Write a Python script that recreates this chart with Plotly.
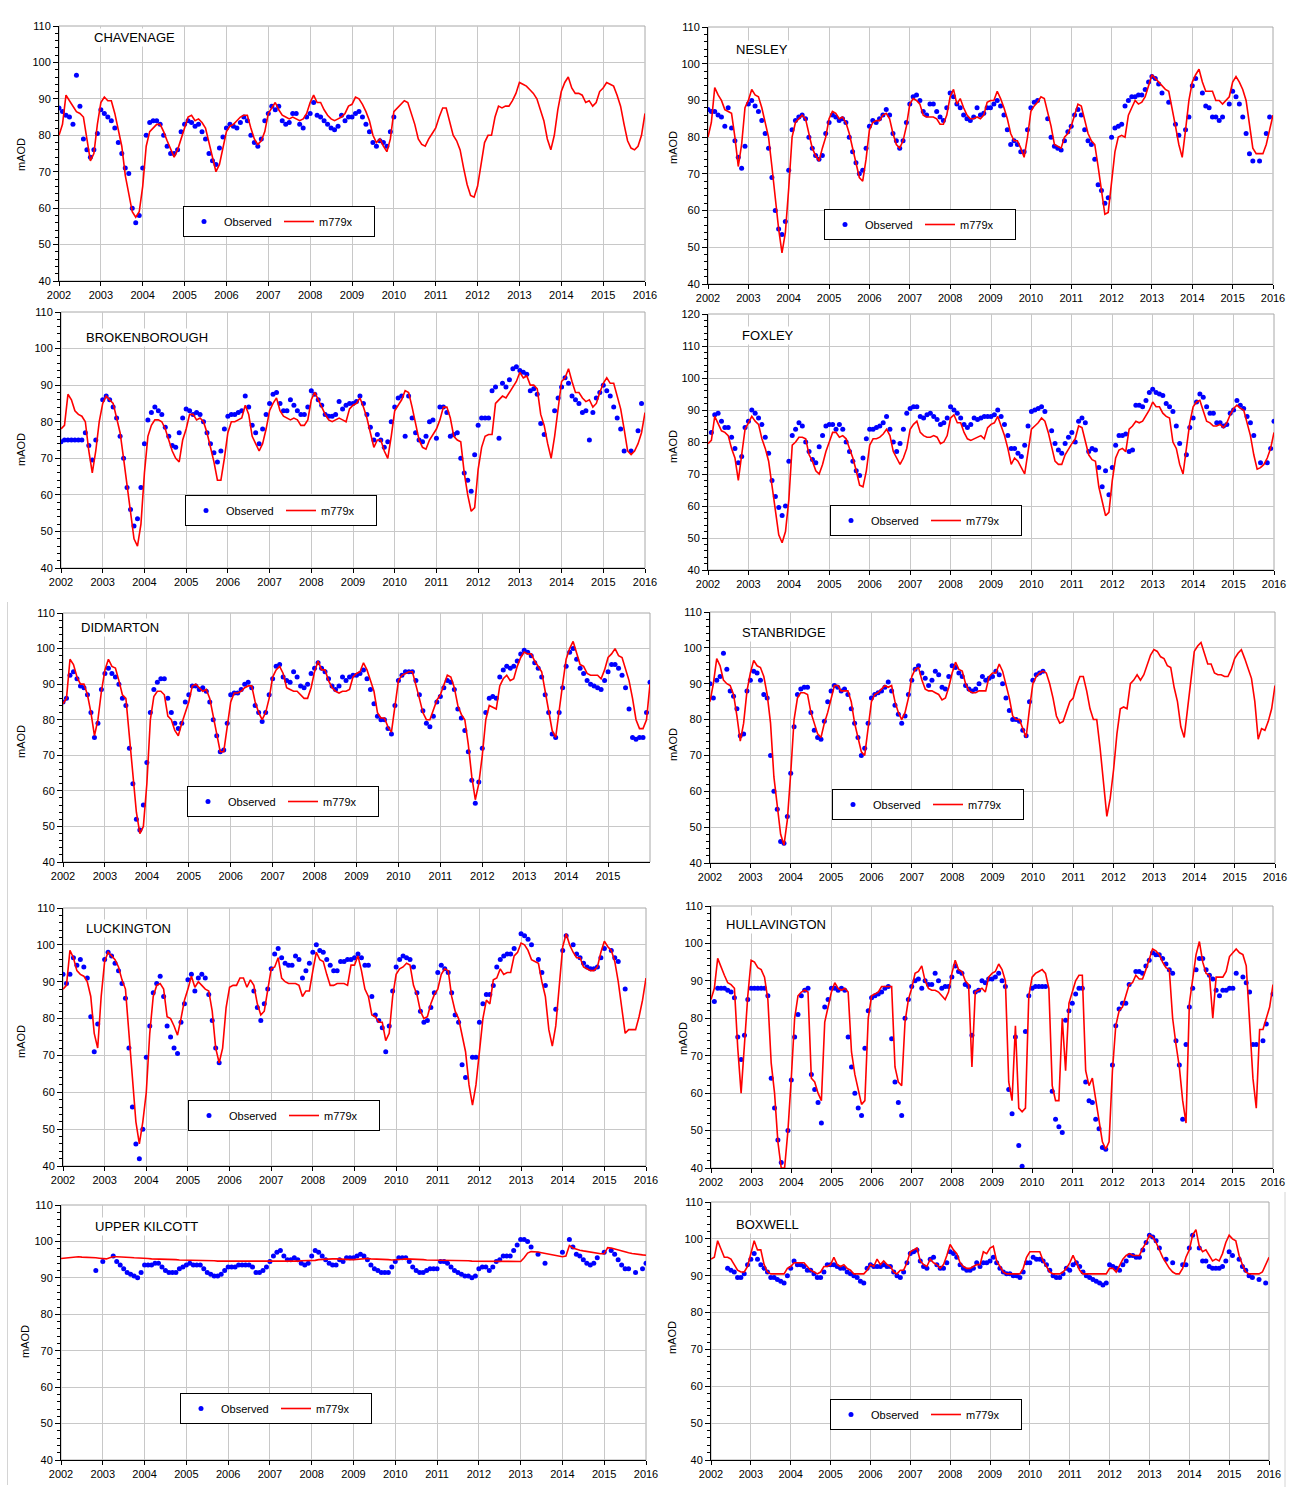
import plotly.graph_objects as go

# Groundwater levels (mAOD), observed vs model m779x, read monthly off the original
# Time axis: Jan 2002 .. Jan 2016 as decimal years
months = [2002 + i / 12 for i in range(14 * 12 + 1)]

chavenage_model = [
    80, 83, 91, 89.5, 88, 86.5, 86, 85, 79, 73, 75, 83,
    89, 90.5, 89.5, 89.5, 86, 81, 77, 69, 64, 59, 57.5, 59,
    66, 77, 81, 82, 83, 83, 81, 78.5, 76, 74, 76, 79,
    82, 85, 85.5, 84, 84.5, 83.5, 82, 78, 74, 70, 72, 77,
    81, 82.5, 83, 84, 85, 85.5, 85.5, 82, 79, 77.5, 78.5, 81,
    86, 87.5, 89, 87, 85.5, 85, 84.5, 85, 84.5, 84, 84.5, 86,
    89, 91, 89, 89, 87, 85.5, 84.5, 84, 84.5, 85, 86, 88,
    88.5, 90.5, 90, 88.5, 86.5, 84, 80, 78, 79, 77, 75.5, 79,
    86.5, 87.5, 88.5, 89.5, 89, 86, 83, 79, 77.5, 77, 79, 80.5,
    82, 85, 87.5, 87.5, 84, 80, 78.5, 76, 71, 66.5, 63.5, 63,
    66, 72, 78, 80, 80, 85, 88, 87.5, 88, 88, 89.5, 91.5,
    94.5, 94, 93.5, 92.5, 91.5, 90, 87, 84, 79, 76, 80, 87,
    92, 94.5, 96, 93, 91.5, 91.5, 91, 89, 89.5, 88, 89, 92,
    93, 94.5, 94, 93.5, 91, 88, 83, 78.5, 76.5, 76, 77, 80,
    86,
]
chavenage_obs = [
    87.5, 86.5, 85.5, 85, 83, 96.5, 88, 79, 76, 74, 76, 80.5,
    87, 86, 85, 84, 82, 78, 75, 71, 69.5, 60, 56, 58,
    71, 80, 83.5, 84, 84, 83, 80, 77, 75, 75, 76, 81,
    83, 84, 83.5, 82.5, 83, 81, 79, 75, 73, 72, 76.5, 79.5,
    82, 83, 82.5, 82, 83.5, 85, 84, 80, 78, 77, 79, 84,
    86, 88, 87, 88, 84, 83, 83.5, 86, 86, 83, 82, 85,
    86, 89, 85.5, 85, 84, 83, 82, 81.5, 82.5, 85.5, 84, 85,
    85, 86, 86.5, 85, 83, 81, 78, 77, 78.5, 78, 77, 81,
    85, *[None] * 11,
    *[None] * 12,
    *[None] * 12,
    *[None] * 12,
    *[None] * 12,
    *[None] * 12,
    None,
]

nesley_model = [
    80, 84, 93.5, 91.5, 90, 87.5, 87, 86.5, 80, 72, 78, 88,
    90, 93, 91.5, 91, 88, 84, 80, 72, 63, 55, 48.5, 54,
    66, 80, 84, 85, 86, 85, 81, 77, 75, 73.5, 77, 80,
    85, 87, 86.5, 85, 85.5, 84, 81, 77, 73, 69, 68, 74,
    82, 84, 84.5, 84.5, 86, 86.5, 85, 81, 78, 77, 79, 83,
    89, 90.5, 90, 89, 86, 85.5, 85.5, 85.5, 85, 83.5, 83.5, 86,
    91, 93, 89, 90.5, 88, 86, 85, 85, 85.5, 85, 86, 89.5,
    90, 90, 92.5, 90.5, 88, 85, 81, 79, 79, 77, 74.5, 80,
    87, 88.5, 89.5, 91, 90.5, 87, 83, 78, 77.5, 77, 80, 81,
    83, 86, 89, 88.5, 85, 81, 79, 78, 72, 65, 59, 59.5,
    67, 76, 80, 80.5, 80, 86, 88, 90, 89, 89.5, 91, 94,
    97, 96, 95, 94, 93, 92.5, 88, 83, 78, 74.5, 82, 90,
    95, 97, 98.5, 95, 92.5, 92.5, 92.5, 90, 90, 89, 90, 91,
    95, 96.5, 95, 93, 90, 84, 77, 75.5, 75.5, 75.5, 78, 82,
    86,
]
nesley_obs = [
    87.5, 87, 87, 86, 85.5, 83, 88, 82.5, 79, 74.5, 71.5, 77.5,
    89, 90, 88.5, 87, 84.5, 81, 77, 69, 60, 55, 53.5, 57,
    71, 82, 84.5, 85.5, 86, 85, 80, 77, 75, 74, 75, 81,
    84, 86, 85.5, 84.5, 85, 84, 80, 76, 73, 70, 71, 77,
    83, 84.5, 84, 85, 86, 87.5, 86, 81, 79, 77, 79, 84,
    89, 91, 91.5, 90, 87, 86, 89, 89, 87, 85.5, 84.5, 88,
    92, 91, 89, 88, 86, 85, 84.5, 85.5, 88, 86, 86.5, 88,
    88, 89, 90, 88.5, 86, 82, 78, 79, 78, 76, 76, 82,
    88, 89.5, 90, None, None, 85, 80, 77.5, 77, 76.5, 79, 81.5,
    83, 86, 87.5, 86, 82, 79, 78, 74, 67, 65.5, 62, 63.5,
    80, 82.5, 83, 83.5, 88.5, 90, 91, 91, 91.5, 91.5, 93, 95,
    96.5, 96, 94.5, 92, None, 89.5, None, 83.5, 80.5, None, 82, 85.5,
    94, 96, None, 92, 88.5, 88, 85.5, 85.5, 84.5, 85.5, None, 89,
    92.5, 91, 89, 85.5, 81, 75.5, 73.5, None, 73.5, None, 81, 85.5,
    None,
]

brokenborough_model = [
    78, 79, 87.5, 86, 83, 82, 81.5, 80, 72, 66, 72, 80,
    85, 87, 86, 85, 81, 77, 70, 63, 55, 48, 46, 52,
    66, 76, 79, 80.5, 80.5, 80, 78, 75, 72, 70, 69, 75,
    78, 82, 82, 80.5, 81, 80, 77, 73, 69, 64, 64, 70,
    77, 80, 80, 80.5, 81, 84.5, 82, 76, 74, 72, 74, 78,
    83, 85, 86.5, 83, 81.5, 81, 80.5, 81, 80.5, 79, 79, 80.5,
    86, 88, 86, 84, 82, 80.5, 80, 80.5, 81, 80.5, 80, 83.5,
    84.5, 85, 86.5, 84, 81, 77, 73, 75, 75, 72, 70, 76,
    83, 84.5, 86, 88.5, 88, 84, 79, 75, 73, 72.5, 75, 76.5,
    78, 80.5, 84, 84, 81, 76, 75, 74.5, 66, 60, 55.5, 56.5,
    67, 73, 76, 76.5, 76.5, 85, 86, 87, 86.5, 88, 89.5, 91,
    93.5, 92, 92.5, 90, 90, 89, 82, 79, 74, 70, 76, 84,
    91, 92, 94.5, 91, 88, 88, 86.5, 85.5, 86, 84, 85, 88,
    90.5, 92, 90.5, 90.5, 87, 83.5, 78, 72, 71, 72, 74, 77,
    82.5,
]
brokenborough_obs = [
    74.5, 75, 75, 75, 75, 75, 75, 77, 73.5, 69.5, 75, None,
    86, 87, 86, 84, 81, 76, 70, 62, 56, 51.5, 53.5, 62,
    74, 80.5, 82.5, 84, 83, 82, 78.5, 76, 73.5, 73, 77, 81,
    83.5, 83, 82, 82.5, 82, 80, 77, 74, 71.5, 69, 72, 78,
    81.5, 82, 82, 82.5, 83, 87, 84, 79, 77, 74, 78, 82,
    85, 87.5, 88, 85, 83, 83, 86, 84.5, 83, 82, 82, 84,
    88.5, 87.5, 86, 84.5, 82, 81.5, 81.5, 82, 85.5, 83.5, 84.5, 85,
    85, 85.5, 87, 85, 82, 78.5, 75, 76.5, 75, 73, 74.5, 80,
    84, 86.5, 87, 76, 87, 81, 77, 75, 74.5, 76, 80, 80.5,
    75.5, 84, 84, 82.5, 76, 76.5, 77, 70, 66, 64, 61, 71,
    79, 81, 81, 81, 88.5, 89.5, 75.5, 90.5, 89.5, 91.5, 94.5, 95,
    94, 93.5, 93, 88.5, 89, 87.5, 79.5, 76.5, None, None, 83, 86.5,
    89.5, 92, 90.5, 87, 86, 85, 82.5, 83, 75, 82.5, 86.5, 88,
    90, 88.5, 87, 84, 81, 78, 72, None, 72, None, 77.5, 85,
    None,
]

foxley_model = [
    79.5, 80.5, 88, 86, 83.5, 83, 82, 78, 75, 68, 76, 84,
    86, 88, 86.5, 85.5, 81, 78, 74, 66, 58, 51, 48.5, 52,
    62, 79, 80, 81.5, 81.5, 81, 76, 74, 71, 70, 73, 77,
    80, 83, 83, 81.5, 82, 81, 78, 75, 71, 66.5, 66, 71,
    79, 81, 81, 81.5, 82.5, 84, 82, 77, 75, 73, 75, 78,
    84, 85.5, 86.5, 83, 82, 81.5, 81.5, 82, 81.5, 79.5, 80, 82,
    87.5, 88.5, 86, 86, 83, 81, 80.5, 81, 81.5, 82, 81, 84.5,
    85.5, 86, 88, 85, 82, 78, 73, 75, 74, 72, 70, 77,
    84, 85, 86, 87.5, 86.5, 83, 78, 74, 73, 73, 76, 78,
    79.5, 81, 85, 84.5, 80, 76, 74.5, 74, 66, 61, 57, 58,
    68, 75, 77.5, 78, 77, 84, 85, 86.5, 86, 86.5, 88.5, 90,
    92.5, 91, 91, 89, 88, 87.5, 80, 78, 73, 70, 78, 86,
    91, 92.5, 93, 90, 86.5, 86, 85, 85, 85.5, 84.5, 86, 88.5,
    90.5, 91.5, 90.5, 90, 86, 82, 76, 71.5, 72, 73, 75, 78,
    83,
]
foxley_obs = [
    None, 83, 88.5, 89, 86.5, 84.5, 84.5, 81.5, 78, 73.5, 75.5, 84.5,
    86.5, 90, 89, 87.5, 85.5, 81.5, 76.5, 68, 63, 59.5, 57, 60,
    74, 82, 84, 86, 85, 80, 77, 74.5, 73.5, 78.5, 82, 85,
    85.5, 85.5, 84, 85.5, 84, 80, 77, 74, 71, 69.5, 75, 81,
    84, 84, 84.5, 85, 86, 88, 84, 80, 77, 79.5, 84, 89,
    90.5, 91, 91, 88, 87.5, 88.5, 89, 88, 87, 85.5, 86, 87.5,
    91, 90, 89, 87.5, 85.5, 84.5, 85.5, 87.5, 87, 87.5, 88, 88,
    88, 88.5, 90, 88, 85.5, 82, 78, 78, 76.5, 75.5, 79, 85,
    89.5, 90, 90.5, 91, 89.5, None, 83.5, 79.5, 77.5, 76.5, 79.5, 81.5,
    83, 80, 86.5, 87.5, 86, 77, 78, 77.5, 72, 66, 71, 63.5,
    72, 79, 82, 82, 82.5, 77, 77.5, 91.5, 91.5, 91, 93, 95.5,
    96.5, 95.5, 95, 94.5, 92, 91, 89.5, 85, 79.5, None, 76, 84.5,
    87.5, 92.5, 95, 94, 91, 89, 89, 86, 86, 85, 85.5, 89,
    90, 93, 91.5, 90.5, 88, 86, 82, None, 73.5, None, 73.5, 78,
    86.5,
]

didmarton_model = [
    84.5, 86, 97, 95.5, 92, 90, 90, 87, 82, 75.5, 80, 88,
    94, 97, 95, 94.5, 91, 87, 86, 75, 65, 54, 48, 50,
    62, 80, 86.5, 88, 88, 87, 81, 80, 77, 75.5, 79, 82,
    85, 89.5, 90, 89, 88, 88.5, 86, 81, 76, 71, 71, 78,
    85, 87.5, 87.5, 88, 89, 89.5, 89.5, 85, 82, 80, 82, 86,
    92, 94, 95, 93, 89, 88.5, 88, 88, 87, 86, 86, 89,
    93.5, 96.5, 94, 94, 91, 89, 88, 87.5, 88, 88, 88.5, 92,
    93, 93.5, 96, 94, 91, 88, 82, 80.5, 80.5, 78, 76.5, 84,
    91, 92.5, 93, 93.5, 93.5, 90, 86, 82, 80, 80, 82.5, 85.5,
    87, 90, 92.5, 92, 89, 84, 81.5, 80, 73, 64, 57.5, 62,
    70, 80, 84, 83.5, 83, 89.5, 91.5, 92.5, 91, 91.5, 95, 97.5,
    99, 98.5, 98.5, 96.5, 95, 93.5, 88, 83, 77, 75, 83, 90,
    97, 100, 102, 98.5, 95.5, 95, 93, 92.5, 92.5, 92.5, 91.5, 94,
    97.5, 98.5, 100, 98, 97.5, 94, 91, 86, 80, 77.5, 77.5, 80,
    90,
]
didmarton_obs = [
    85, 86, 92.5, 93.5, 91.5, 89.5, 89, 87, 82, 75, 79, 88.5,
    93, 94.5, 93, 92, 90, 86, 84, 72, 62, 52, 49, 56,
    68, 82, 88.5, 90.5, 91.5, 91.5, 86, 82, 79, 77.5, 79, 85,
    87, 89.5, 89.5, 88.5, 89, 88, 85, 80, 75.5, 71, 71.5, 79,
    87, 87.5, 87.5, 88.5, 90, 90.5, 89, 84, 82, 79.5, 82, 87,
    91.5, 95, 95.5, 92, 91, 90.5, 93.5, 92, 89.5, 89, 90, 93,
    94.5, 96, 94.5, 93.5, 91.5, 89.5, 88.5, 89.5, 92, 91, 92, 92.5,
    92.5, 93, 94, 91.5, 88.5, 84.5, 81, 80, 80, 77.5, 76, 84,
    91, 92.5, 93.5, 93.5, 93.5, 91, 87, 82.5, 79, 78, 81, 85,
    86.5, 89, 91, 90.5, 88.5, 83, 80.5, 77, 71, 63, 56.5, 62.5,
    72, 82, 86, 86.5, 86, 92, 94, 95, 94.5, 95, 96.5, 98.5,
    99.5, 99, 98, 96, 94.5, 92, 87, 82, 76, 75, 82, 89,
    95, 99, 100, 97, 94.5, 93, 91, 90, 89.5, 89, 88.5, 91,
    93.5, 95.5, 95.5, 94.5, 92.5, 89, 83, 75, 74.5, 75, 75, 82,
    90.5,
]

stanbridge_model = [
    85, 90, 97, 95, 91, 90, 89.5, 87, 81, 74, 79, 88,
    93, 96.5, 95, 94.5, 92, 87, 79, 64, 56, 48, 45, 52,
    65, 80, 86, 87.5, 87.5, 87, 82, 79, 76, 75, 79, 82,
    86, 89.5, 89.5, 88, 88, 88, 85, 79, 75, 71, 70, 77,
    85, 87, 87.5, 88.5, 89.5, 89, 89.5, 85, 82, 80, 82, 86,
    92, 94, 94.5, 91, 88.5, 88, 88, 87.5, 87, 85.5, 86, 89,
    93, 96, 94, 93.5, 90, 88, 87.5, 87.5, 88, 88, 88, 92,
    93, 93, 95.5, 93.5, 90, 86, 81, 80, 80, 77.5, 75, 83,
    90, 92, 93, 93.5, 93, 90, 86, 81, 79, 79.5, 82, 85,
    86, 89.5, 92, 92, 88, 83, 80, 80, 72, 62, 53, 58,
    66, 76, 83, 83.5, 83, 90, 91, 92.5, 91, 92.5, 95.5, 98,
    99.5, 99, 97.5, 97, 95, 94.5, 89, 85, 78, 75, 83, 91,
    99, 100.5, 101.5, 98.5, 95.5, 95.5, 93, 92.5, 92.5, 92, 92, 94,
    97, 98.5, 99.5, 97, 94, 91.5, 85, 74.5, 77.5, 77, 79.5, 83,
    89.5,
]
stanbridge_obs = [
    90, 86, 91, 92, 98.5, 94, 88, 86.5, 83, 75.5, 76, 88,
    91, 93.5, 93, 91, 87, 86, 70, 60, 55, 46, 45.5, 53,
    65, 78, 87, 88.5, 89, 89, 82, 77, 75, 74.5, 79.5, 85,
    88, 89.5, 89, 88, 88.5, 87, 83, 79, 75, 70, 72, 79,
    86, 87, 87.5, 88, 89, 90.5, 88, 84, 81.5, 79, 81, 87,
    91, 94, 95, 93, 91.5, 89.5, 91, 93.5, 92.5, 89, 88.5, 92,
    95, 94.5, 93, 92, 89.5, 88.5, 88, 88.5, 90, 92, 91, 91.5,
    92, 93.5, 92.5, 90, 86, 82.5, 80, 80, 79.5, 77, 75.5, 85,
    91, 92.5, 93, 93.5, *[None] * 8,
    *[None] * 12,
    *[None] * 12,
    *[None] * 12,
    *[None] * 12,
    *[None] * 12,
    None,
]

luckington_model = [
    88, 89, 98.5, 96.5, 93, 92, 91.5, 90, 86, 76, 72, 86,
    95.5, 98, 97, 96, 94, 90.5, 88, 76, 62, 52, 46, 52,
    60, 76, 86, 89, 89.5, 88, 80.5, 80, 78, 75.5, 80, 85,
    88, 91.5, 88.5, 90, 89, 88, 87.5, 82, 72, 68, 72, 83,
    88.5, 89, 89, 91, 91, 88.5, 90.5, 89, 84, 81, 82, 88,
    93.5, 94, 96.5, 91, 90, 89.5, 89.5, 89.5, 89, 86, 87.5, 87.5,
    93, 98, 96, 95.5, 92, 89, 89, 89.5, 89.5, 89.5, 89, 94.5,
    94.5, 97, 93, 88, 86, 81, 80.5, 79, 79, 74, 76, 86,
    92, 93.5, 94, 95, 94.5, 89, 86.5, 82, 80, 80.5, 84, 86.5,
    88, 92, 93.5, 93, 86, 82, 80, 75, 71, 62, 56.5, 62,
    72, 80, 85, 84, 90.5, 91, 93.5, 92, 92.5, 92.5, 97, 98,
    100.5, 100, 98.5, 96, 95.5, 95, 90, 86, 77, 72.5, 78, 88,
    99.5, 103, 100, 98, 96.5, 96.5, 94, 93.5, 93, 93, 94, 98,
    101, 99.5, 98.5, 95.5, 90, 83, 76, 77, 77, 77, 80.5, 85,
    91,
]
luckington_obs = [
    92, 89.5, 92, 96.5, 94.5, 96, 94, 91, 80.5, 71, 78.5, None,
    96, 98, 97, 95, 93, 89.5, 85.5, 72, 56, 46, 42, 50,
    69.5, 78, 87, 89.5, 91.5, 86, 78, 75, 72, 70.5, 79, 84,
    90.5, 92, 87.5, 91, 92, 91, 86.5, 79.5, 72, 68, None, None,
    *[None] * 7, 87.5, 83, 79.5, 84, 88,
    93.5, 97.5, 99, 96.5, 95, 94.5, 94.5, 97, 96, 91, 93, 95,
    98, 100, 98.5, 98, 96, 94.5, 93, 93, 95.5, 95.5, 96, 96,
    96.5, 97.5, 96.5, 94.5, 94.5, 86, 81, 79.5, 77.5, 71, 78, 87.5,
    94, 96, 97, 96.5, 96, 94, 87, 82, 79, 79.5, 83, 87,
    92.5, 94.5, 93.5, 92.5, 87, 81, 79, 67.5, 64, None, 69.5, 69.5,
    79, 84, 86.5, 86.5, 89, 94, 96, 97, 97.5, 97.5, 99, None,
    103, 102.5, 101.5, 100, None, 96, 92.5, 89, None, None, 82.5, None,
    98.5, 102.5, None, 100, 97.5, 96.5, 95, 94, 93.5, 93.5, 94, 96.5,
    99, None, 98.5, 96.5, 95.5, None, 88, *[None] * 5,
    None,
]

hullavington_model = [
    85, 88, 96, 93.5, 91.5, 89.5, 89, 88, 72, 60, 74, 86,
    95.5, 95, 93.5, 93, 91, 85, 68, 60, 47, 40, 40, 50,
    64, 80, 86, 87, 87.5, 87, 64, 63, 60, 58, 79, 83,
    87, 89.5, 88, 87.5, 88, 87, 71, 65, 61, 57, 58, 80,
    86, 86.5, 87, 88.5, 88.5, 88.5, 88.5, 67, 63, 62, 79, 85,
    88, 92, 92.5, 94, 90, 88, 87.5, 87.5, 87, 86, 85, 87,
    92, 95.5, 93, 92.5, 90, 89, 67, 87, 87.5, 88, 87, 91,
    92, 92.5, 94.5, 93, 90, 63, 58, 78, 56, 55, 56, 86,
    91, 92, 92.5, 93, 92, 88, 62, 58, 58, 80, 66, 84,
    87, 90, 91.5, 91.5, 66, 62, 64, 58, 52, 47, 45, 47,
    66, 78, 82, 83, 86, 89, 89.5, 91.5, 90.5, 90.5, 93, 96,
    98.5, 98, 97, 95, 93.5, 93, 80, 73, 67, 58, 52, 84,
    91, 97, 100.5, 95, 92, 91.5, 80, 91, 91, 91, 92.5, 96.5,
    97.5, 98.5, 97.5, 97, 94, 78, 64, 56, 77, 77, 80, 83,
    89,
]
hullavington_obs = [
    None, 84.5, 88, 88, 88, 87.5, 87, 85.5, 75, 69, 75.5, 85,
    88, 88, 88, 88, 88, 86, 64, 56, 47.5, 41.5, None, 50,
    63.5, 75, 81, 86, 87.5, 88, 65, 61, 57.5, 52, 83, 85,
    88, 88, 87.5, 88, 87.5, 75, 67, 60, 56, 54, 72, 82,
    85.5, 86, 86.5, 87, 88, 88.5, 74.5, 63, 57.5, 54, 80, 85,
    88.5, 90, 90.5, 88, 90, 89, 89, 92, 90, 88, 88.5, 88.5,
    91, 94, 92.5, 92, 89, 88.5, 75.5, 87, 87.5, 90, 89.5, 90.5,
    90.5, 91, 92, 90, 88.5, 61, 54.5, 75, 46, 40.5, 76.5, 86,
    88, 88.5, 88.5, 88.5, 88.5, None, 60.5, 53, 51, 49.5, 79.5, 82,
    84, 86.5, 88, 88, 63, 58, 57.5, 53, 50.5, 45.5, 45, None,
    67.5, 78, 82.5, 84, 84, 89, None, 92.5, 92.5, 92, 94, 95.5,
    97.5, 97, 97, 96, 94.5, 93, 92, 74, 67.5, 53, 73, 83,
    88, 93, 96, 96, 93, 91.5, 90.5, 87.5, 86, 87.5, 87.5, 88,
    88, 92, None, 91, 89.5, 87, 73, 73, None, 74, 78.5, None,
    86.5,
]

upper_kilcott_model = [
    95.3, 95.4, 95.6, 95.8, 95.8, 95.8, 95.7, 95.7, 95.6, 95.6, 95.5, 95.4,
    95.3, 95.2, 95.5, 95.8, 95.8, 95.8, 95.7, 95.7, 95.6, 95.5, 95.5, 95.4,
    95.3, 95.3, 95.2, 95.2, 95.2, 95.1, 95.1, 95.0, 95.0, 95.0, 94.9, 94.9,
    94.9, 94.8, 94.8, 94.8, 94.8, 94.7, 94.7, 94.7, 94.7, 94.6, 94.6, 94.6,
    94.6, 94.6, 94.6, 94.6, 94.6, 94.5, 94.5, 94.5, 94.5, 94.5, 94.4, 94.4,
    94.4, 94.4, 94.5, 94.5, 94.5, 94.6, 94.6, 94.6, 94.6, 94.7, 94.7, 94.7,
    94.7, 94.8, 95.0, 95.1, 95.1, 95.2, 95.2, 95.2, 95.1, 95.1, 95.0, 95.0,
    95.0, 95.1, 95.3, 95.3, 95.3, 95.2, 95.2, 95.1, 95.1, 95.0, 95.0, 94.9,
    94.9, 95.0, 95.1, 95.2, 95.2, 95.1, 95.1, 95.0, 95.0, 94.9, 94.9, 94.8,
    94.8, 94.8, 94.8, 94.8, 94.8, 94.8, 94.7, 94.7, 94.7, 94.7, 94.6, 94.6,
    94.6, 94.6, 94.6, 94.6, 94.6, 94.6, 94.5, 94.5, 94.5, 94.5, 94.5, 94.5,
    94.5, 95.5, 96.8, 97.2, 97.2, 97.1, 96.9, 96.7, 96.5, 96.3, 96.1, 96.0,
    95.8, 96.0, 98.9, 98.2, 97.8, 97.6, 97.4, 97.2, 97.0, 96.9, 96.7, 96.6,
    96.6, 98.3, 98.2, 97.9, 97.6, 97.3, 97.1, 96.9, 96.7, 96.5, 96.4, 96.3,
    96.2,
]
upper_kilcott_obs = [
    *[None] * 10, 92, None,
    94.5, None, None, 96, 94.5, 93.5, 92.5, 91.5, 91, 90.5, 90, 91.5,
    93.5, 93.5, 93.5, 94, 94, 93, 92, 91.5, 91.5, 91.5, 92.5, 93,
    93.5, 94, 93.5, 93.5, 93.5, 92.5, 91.5, 91, 90.5, 90.5, 91, 92,
    93, 93, 93, 93.5, 93.5, 93.5, 93.5, 93, 91.5, 91.5, 92, 93,
    94.5, 96, 97, 97.5, 96, 95, 95, 95.5, 95, 94, 93.5, 94,
    96, 97.5, 97, 96, 95, 94, 93.5, 93.5, 95, 94.5, 95.5, 95.5,
    95.5, 96, 96.5, 96, 95, 93.5, 92.5, 92, 91.5, 91.5, 91.5, 93,
    94.5, 95.5, 95.5, 95.5, 94.5, 93, 92, 91.5, 91.5, 92, 92.5, 92.5,
    92.5, 94.5, 94.5, 94, 93, 92, 91.5, 91, 90.5, 90.5, 90, 90.5,
    92.5, 93, 93, 92, 93, 94.5, 95, 96, 96, 96, 97.5, 99,
    100.5, 100.5, 100, 98.5, None, 96.5, None, 94, None, None, None, None,
    97, None, 100.5, 98.5, 96.5, 96, 95, 94, 93.5, 94, 95.5, None,
    97, None, 97.5, 96.5, 95, 93.5, 92.5, 92.5, None, 91.5, None, 92.5,
    94,
]

boxwell_model = [
    94.5, 95, 99.5, 97, 95, 95, 94.5, 93, 91.5, 91, 91, 92.5,
    96, 99.5, 97, 97, 93, 91, 90.5, 90.5, 90.5, 90.5, 90.5, 92,
    92.5, 93.5, 93.5, 93.5, 93.5, 92.5, 91.5, 91, 90.5, 91, 92.5, 92.5,
    93, 95, 93, 92.5, 93, 92, 91.5, 90.5, 90.5, 90.5, 90.5, 91.5,
    93, 92.5, 94.5, 93, 94, 93, 92.5, 91, 90.5, 91.5, 91.5, 93.5,
    96.5, 97, 97.5, 94, 93, 92.5, 94.5, 93.5, 93, 92, 93, 95.5,
    98.5, 97, 96, 93.5, 92.5, 92, 92, 92.5, 93, 93, 96.5, 96,
    97.5, 98, 94, 92.5, 91, 90.5, 90.5, 90.5, 90.5, 90.5, 92, 95,
    96.5, 96.5, 96.5, 96.5, 94, 92.5, 91, 90.5, 90.5, 90.5, 91, 92,
    93.5, 95.5, 93.5, 91.5, 90.5, 90.5, 90.5, 90.5, 90.5, 90.5, 90.5, 90.5,
    92, 92, 91, 93, 94.5, 95.5, 96, 95.5, 95.5, 95.5, 97.5, 99,
    101, 100.5, 99, 97, 95, 93.5, 92, 91, 90.5, 90.5, 92, 95,
    97, 101, 102.5, 98, 96.5, 97, 95.5, 94, 94.5, 94, 96, 99,
    101, 100, 99.5, 95.5, 93, 91, 90.5, 90.5, 90.5, 90.5, 91, 93,
    95,
]
boxwell_obs = [
    *[None] * 5, 92, 91.5, 91, 89.5, 89.5, 90.5, 93,
    94.5, 96, 94.5, 93, 92, 91, 89.5, 89.5, 89, 88.5, 88, 90,
    92, 94, 93, 93, 92.5, 91.5, 91.5, 90.5, 89.5, 89.5, 91, 93,
    93, 93, 92.5, 92, 92, 91, 90.5, 90, 89.5, 88.5, 88, 92,
    93, 92.5, 92.5, 92.5, 93, 92.5, 92.5, 91, 90, 89.5, 91, 93.5,
    96, 96.5, 97, 94, 92.5, 92, 94.5, 95, 93, 92, 92, 93.5,
    96.5, 96, 95, 93, 92, 91.5, 91.5, 92, 93.5, 92.5, 93.5, 93.5,
    94, 95, 93.5, 92, 91, 90.5, 90.5, 90, 90, 89.5, 91, 93.5,
    93.5, 95, 94.5, 94.5, 94, 93, 91.5, 90, 89.5, 89.5, 90.5, 92,
    91.5, 93, 93.5, 92.5, 91, 90, 89.5, 89, 88.5, 88, 87.5, 88,
    93, 92.5, 92, 91.5, 93, 94, 95.5, 95.5, 95, 95, 97, 99,
    101, 100.5, 99.5, 97.5, None, 94.5, None, 93.5, None, None, 93, 93,
    97.5, 101, None, 97.5, 94, 94, 92.5, 92, 92, 92, 92.5, 94,
    96.5, 95.5, None, 94.5, 92.5, 91.5, 90, 89.5, None, 89, None, 88,
    None,
]

W, H = 1298, 1506
FONT = "Liberation Sans, Arial, sans-serif"

# plot box (left, top, right, bottom) in px, legend top-left in px,
# station label position and y-title position in px
panels = [
    dict(name="CHAVENAGE", obs=chavenage_obs, model=chavenage_model, ytop=110,
         box=(59, 26, 645, 281), legend=(183, 206), title=(92, 38), ytitle=(21, 155), last=2016),
    dict(name="NESLEY", obs=nesley_obs, model=nesley_model, ytop=110,
         box=(708, 27, 1273, 284), legend=(824, 209), title=(734, 50), ytitle=(673, 148), last=2016),
    dict(name="BROKENBOROUGH", obs=brokenborough_obs, model=brokenborough_model, ytop=110,
         box=(61, 312, 645, 568), legend=(185, 495), title=(84, 337), ytitle=(21, 450), last=2016),
    dict(name="FOXLEY", obs=foxley_obs, model=foxley_model, ytop=120,
         box=(708, 314, 1274, 570), legend=(830, 505), title=(740, 335), ytitle=(673, 447), last=2016),
    dict(name="DIDMARTON", obs=didmarton_obs, model=didmarton_model, ytop=110,
         box=(63, 613, 650, 862), legend=(187, 786), title=(79, 627), ytitle=(21, 742), last=2015),
    dict(name="STANBRIDGE", obs=stanbridge_obs, model=stanbridge_model, ytop=110,
         box=(710, 612, 1275, 863), legend=(832, 789), title=(740, 632), ytitle=(673, 745), last=2016),
    dict(name="LUCKINGTON", obs=luckington_obs, model=luckington_model, ytop=110,
         box=(63, 908, 646, 1166), legend=(188, 1100), title=(84, 928), ytitle=(21, 1042), last=2016),
    dict(name="HULLAVINGTON", obs=hullavington_obs, model=hullavington_model, ytop=110,
         box=(711, 906, 1273, 1168), legend=None, title=(724, 924), ytitle=(683, 1038), last=2016),
    dict(name="UPPER KILCOTT", obs=upper_kilcott_obs, model=upper_kilcott_model, ytop=110,
         box=(61, 1205, 646, 1460), legend=(180, 1393), title=(93, 1226), ytitle=(25, 1342), last=2016),
    dict(name="BOXWELL", obs=boxwell_obs, model=boxwell_model, ytop=110,
         box=(711, 1202, 1269, 1460), legend=(830, 1399), title=(734, 1224), ytitle=(672, 1338), last=2016),
]


def fit(values):
    # pad / trim to the monthly axis
    values = list(values)
    return (values + [None] * len(months))[:len(months)]


fig = go.Figure()
layout = {}
legend_no = 0

for i, p in enumerate(panels, start=1):
    sfx = "" if i == 1 else str(i)
    l, t, r, b = p["box"]

    if p["legend"] is not None:
        legend_no += 1
        leg = "legend" if legend_no == 1 else f"legend{legend_no}"
        lx, ly = p["legend"]
        layout[leg] = dict(
            x=lx / W, y=1 - ly / H, xanchor="left", yanchor="top",
            orientation="h", bgcolor="white", bordercolor="black", borderwidth=1,
            font=dict(family=FONT, size=11, color="black"),
            entrywidth=50, tracegroupgap=0,
        )
        show = True
    else:
        leg = "legend"
        show = False

    fig.add_trace(go.Scatter(
        x=months, y=fit(p["obs"]), mode="markers", name="Observed",
        marker=dict(color="#0000ff", size=5, line=dict(width=0)),
        xaxis=f"x{sfx}", yaxis=f"y{sfx}", legend=leg, showlegend=show,
    ))
    fig.add_trace(go.Scatter(
        x=months, y=fit(p["model"]), mode="lines", name="m779x",
        line=dict(color="#ff0000", width=1.6),
        xaxis=f"x{sfx}", yaxis=f"y{sfx}", legend=leg, showlegend=show,
    ))

    layout[f"xaxis{sfx}"] = dict(
        domain=[l / W, r / W], anchor=f"y{sfx}", range=[2002, 2016], automargin=False,
        tickmode="array", tickvals=list(range(2002, p["last"] + 1)), tickformat="d",
        showgrid=True, gridcolor="#c8c8c8", gridwidth=1, zeroline=False,
        showline=True, linecolor="black", linewidth=1,
        ticks="outside", ticklen=4, tickcolor="black",
        tickfont=dict(family=FONT, size=11, color="black"),
    )
    layout[f"yaxis{sfx}"] = dict(
        domain=[1 - b / H, 1 - t / H], anchor=f"x{sfx}", range=[40, p["ytop"]], automargin=False,
        tick0=40, dtick=10, showgrid=True, gridcolor="#c8c8c8", gridwidth=1, zeroline=False,
        showline=True, linecolor="black", linewidth=1,
        ticks="outside", ticklen=5, tickcolor="black",
        minor=dict(dtick=2, ticks="outside", ticklen=3, tickcolor="black", showgrid=False),
        tickfont=dict(family=FONT, size=11, color="black"),
    )

    # grey frame on the top and right of the plot area
    fig.add_shape(type="rect", xref=f"x{sfx} domain", yref=f"y{sfx} domain",
                  x0=0, x1=1, y0=0, y1=1, line=dict(color="#a8a8a8", width=1), layer="below")

    tx, ty = p["title"]
    fig.add_annotation(x=tx / W, y=1 - ty / H, xref="paper", yref="paper", text=p["name"],
                       showarrow=False, xanchor="left", yanchor="middle", bgcolor="white",
                       font=dict(family=FONT, size=13, color="black"))
    yx, yy = p["ytitle"]
    fig.add_annotation(x=yx / W, y=1 - yy / H, xref="paper", yref="paper", text="mAOD",
                       textangle=-90, showarrow=False, xanchor="center", yanchor="middle",
                       font=dict(family=FONT, size=11, color="black"))

# faint outer chart frames visible in the original
fig.add_shape(type="line", xref="paper", yref="paper", x0=7.5 / W, x1=7.5 / W,
              y0=1 - 1485 / H, y1=1 - 602 / H, line=dict(color="#d4d4d4", width=1))
fig.add_shape(type="line", xref="paper", yref="paper", x0=1285 / W, x1=1285 / W,
              y0=1 - 1487 / H, y1=1 - 1192 / H, line=dict(color="#d4d4d4", width=1))

fig.update_layout(
    width=W, height=H, margin=dict(l=0, r=0, t=0, b=0, autoexpand=False),
    paper_bgcolor="white", plot_bgcolor="white",
    font=dict(family=FONT, size=11, color="black"),
    **layout,
)

# the page body's default 8px margin would shift the figure; remove it
fig.write_html("out.html", config={"displayModeBar": False},
               post_script="document.body.style.margin = '0';")
